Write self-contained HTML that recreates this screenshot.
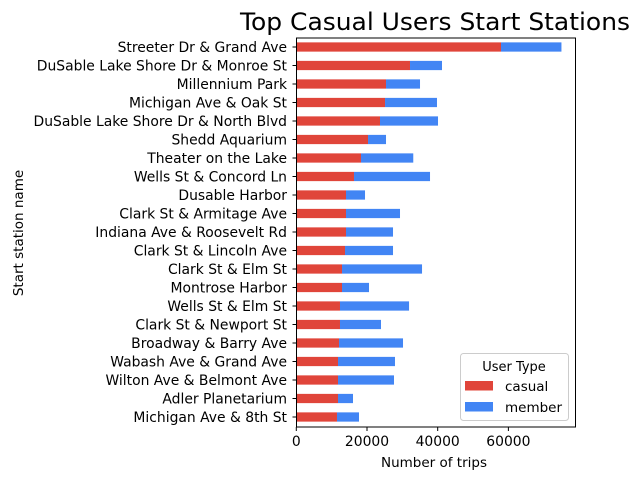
<!DOCTYPE html>
<html><head><meta charset="utf-8"><style>
body{margin:0;background:#fff}
text{font-family:"DejaVu Sans","Liberation Sans",sans-serif;fill:#000}
</style></head><body>
<svg id="chart" width="640" height="480" viewBox="0 0 640 480" xmlns="http://www.w3.org/2000/svg">
<rect width="640" height="480" fill="#fff"/>
<text x="435" y="30" font-size="24" text-anchor="middle" textLength="390" lengthAdjust="spacingAndGlyphs">Top Casual Users Start Stations</text>
<g id="bars"></g>
<g id="yticks"></g>
<g id="xticks"></g>
<rect x="296.5" y="38" width="279" height="389" fill="none" stroke="#000" stroke-width="1"/>
<text x="434" y="467" font-size="13.5" text-anchor="middle">Number of trips</text>
<text transform="translate(23,233) rotate(-90)" font-size="13.5" text-anchor="middle">Start station name</text>
<g>
<rect x="460.5" y="353.5" width="108" height="67" rx="3" fill="#fff" fill-opacity="0.8" stroke="#ccc"/>
<text x="514" y="371" font-size="13" text-anchor="middle">User Type</text>
<rect x="465" y="381" width="28" height="9.5" fill="#e0453a"/>
<text x="505" y="391" font-size="13.5">casual</text>
<rect x="465" y="402" width="28" height="9.5" fill="#4285f4"/>
<text x="505" y="412" font-size="13.5">member</text>
</g>
</svg>
<script>
const stations = ["Streeter Dr & Grand Ave","DuSable Lake Shore Dr & Monroe St","Millennium Park","Michigan Ave & Oak St","DuSable Lake Shore Dr & North Blvd","Shedd Aquarium","Theater on the Lake","Wells St & Concord Ln","Dusable Harbor","Clark St & Armitage Ave","Indiana Ave & Roosevelt Rd","Clark St & Lincoln Ave","Clark St & Elm St","Montrose Harbor","Wells St & Elm St","Clark St & Newport St","Broadway & Barry Ave","Wabash Ave & Grand Ave","Wilton Ave & Belmont Ave","Adler Planetarium","Michigan Ave & 8th St"];
const casual = [57910,32170,25380,25100,23680,20290,18300,16320,14060,14060,14060,13780,12930,12930,12360,12360,12080,11800,11800,11800,11510];
const member = [17100,9050,9620,14700,16410,5090,14790,21510,5380,15280,13300,13580,22640,7640,19540,11600,18110,16120,15840,4240,6230];
const xTicks = [0,20000,40000,60000];
const xTickLabels = ["0","20000","40000","60000"];
const NS="http://www.w3.org/2000/svg";
const x0=296.3, xMax=78930, xW=279;
function xs(v){return x0+v/xMax*xW;}
function yc(i){return 47+i*18.5;}
const bh=9.25;
const gb=document.getElementById('bars'), gy=document.getElementById('yticks'), gx=document.getElementById('xticks');
function mk(t,a,p){const e=document.createElementNS(NS,t);for(const k in a)e.setAttribute(k,a[k]);p.appendChild(e);return e;}
stations.forEach((s,i)=>{
  const r1=mk('rect',{x:xs(0),y:yc(i)-bh/2,width:xs(casual[i])-xs(0),height:bh,fill:'#e0453a'},gb);
  
  
  const r2=mk('rect',{x:xs(casual[i]),y:yc(i)-bh/2,width:xs(casual[i]+member[i])-xs(casual[i]),height:bh,fill:'#4285f4'},gb);
  
  
  const tk=mk('line',{x1:292.5,x2:296.5,y1:yc(i),y2:yc(i),stroke:'#000'},gy);
  
  
  const t=mk('text',{x:287,y:yc(i)+5,'font-size':13.9,'text-anchor':'end'},gy);
  t.textContent=s;
  
  
});
xTicks.forEach((v,i)=>{
  const tk=mk('line',{x1:xs(v),x2:xs(v),y1:427,y2:431,stroke:'#000'},gx);
  
  
  const t=mk('text',{x:xs(v),y:446,'font-size':13.9,'text-anchor':'middle'},gx);
  t.textContent=xTickLabels[i];
  
  
});
</script>
</body></html>
